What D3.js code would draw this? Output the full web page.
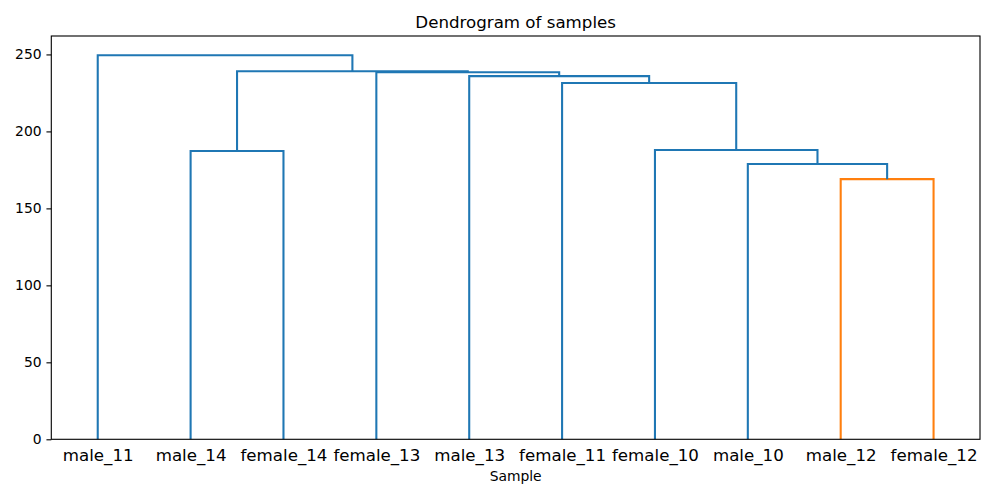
<!DOCTYPE html>
<html>
<head>
<meta charset="utf-8">
<script src="https://cdn.jsdelivr.net/npm/d3@7"></script>
<style>
  body { margin: 0; background: #fff; }
  text { font-family: "DejaVu Sans", sans-serif; fill: #000; }
</style>
</head>
<body>
<svg id="chart"></svg>
<script>
// leaves, left to right, as they come out of the dendrogram
const leafLabels = ['male_11', 'male_14', 'female_14', 'female_13', 'male_13',
                    'female_11', 'female_10', 'male_10', 'male_12', 'female_12'];

// linkage rows: ids 0-9 are leaves (by position), row k makes cluster 10 + k
const mergeLeft   = [8, 7, 1, 6, 5, 4, 3, 12, 0];
const mergeRight  = [9, 10, 2, 11, 13, 14, 15, 16, 17];
const mergeHeight = [169.0, 178.8, 187.3, 187.9, 231.4, 235.9, 238.4, 239.1, 249.5];

const yTicks = [0, 50, 100, 150, 200, 250];

class Dendrogram {

  constructor(_config) {
    this.config = {
      parentElement: _config.parentElement,
      containerWidth: 1000,
      containerHeight: 500,
      margin: { top: 36, bottom: 60.7, right: 20, left: 51.3 }
    };
    this.initVis();
  }

  initVis() {
    let vis = this;
    vis.width = vis.config.containerWidth - vis.config.margin.left - vis.config.margin.right;
    vis.height = vis.config.containerHeight - vis.config.margin.top - vis.config.margin.bottom;

    vis.svg = d3.select(vis.config.parentElement)
        .attr('width', vis.config.containerWidth)
        .attr('height', vis.config.containerHeight);

    vis.chart = vis.svg.append('g')
        .attr('transform', `translate(${vis.config.margin.left},${vis.config.margin.top})`);

    // scipy style: leaves sit at 5, 15, 25, ... on a 0..10n axis
    vis.xScale = d3.scaleLinear()
        .domain([0, leafLabels.length * 10])
        .range([0, vis.width]);

    vis.yScale = d3.scaleLinear()
        .domain([0, d3.max(mergeHeight) * 1.05])
        .range([vis.height, 0]);

    vis.line = d3.line()
        .x(d => vis.xScale(d[0]))
        .y(d => vis.yScale(d[1]));
  }

  updateVis() {
    let vis = this;

    // position and height of every node, leaves first
    const nodeX = leafLabels.map((d, i) => 5 + 10 * i);
    const nodeH = leafLabels.map(() => 0);
    vis.links = [];
    const threshold = 0.7 * d3.max(mergeHeight);
    mergeHeight.forEach((h, k) => {
      const a = mergeLeft[k], b = mergeRight[k];
      const xa = Math.min(nodeX[a], nodeX[b]) === nodeX[a] ? a : b;
      const xb = xa === a ? b : a;
      vis.links.push({
        pts: [[nodeX[xa], nodeH[xa]], [nodeX[xa], h], [nodeX[xb], h], [nodeX[xb], nodeH[xb]]],
        color: h < threshold ? '#ff7f0e' : '#1f77b4'
      });
      nodeX.push((nodeX[a] + nodeX[b]) / 2);
      nodeH.push(h);
    });
    vis.leafX = leafLabels.map((d, i) => 5 + 10 * i);

    vis.renderVis();
  }

  renderVis() {
    let vis = this;

    vis.chart.selectAll('.link')
        .data(vis.links)
      .join('path')
        .attr('class', 'link')
        .attr('d', d => vis.line(d.pts))
        .style('fill', 'none')
        .style('stroke', d => d.color)
        .style('stroke-width', 2.08);

    // x axis: leaf labels, tick marks hidden
    const xAxisG = vis.chart.append('g')
        .attr('transform', `translate(0,${vis.height})`)
        .call(d3.axisBottom(vis.xScale)
          .tickValues(vis.leafX)
          .tickFormat((d, i) => leafLabels[i])
          .tickSize(0)
          .tickPadding(10));
    xAxisG.select('.domain').remove();
    xAxisG.selectAll('text')
        .attr('font-size', 16.67)
        .attr('font-family', '"DejaVu Sans", sans-serif');

    const yAxisG = vis.chart.append('g')
        .call(d3.axisLeft(vis.yScale)
          .tickValues(yTicks)
          .tickSize(4.86)
          .tickPadding(4.86));
    yAxisG.select('.domain').remove();
    yAxisG.selectAll('line').attr('stroke', '#000').attr('stroke-width', 1.11);
    yAxisG.selectAll('text')
        .attr('font-size', 13.89)
        .attr('font-family', '"DejaVu Sans", sans-serif');

    // frame
    vis.chart.append('rect')
        .attr('width', vis.width)
        .attr('height', vis.height)
        .style('fill', 'none')
        .style('stroke', '#000')
        .style('stroke-width', 1.11);

    vis.chart.append('text')
        .attr('x', vis.width / 2)
        .attr('y', -8.3)
        .attr('text-anchor', 'middle')
        .attr('font-size', 16.67)
        .text('Dendrogram of samples');

    vis.chart.append('text')
        .attr('x', vis.width / 2)
        .attr('y', vis.height + 41.5)
        .attr('text-anchor', 'middle')
        .attr('font-size', 13.89)
        .text('Sample');
  }
}

const dendro = new Dendrogram({ parentElement: '#chart' });
dendro.updateVis();
</script>
</body>
</html>
